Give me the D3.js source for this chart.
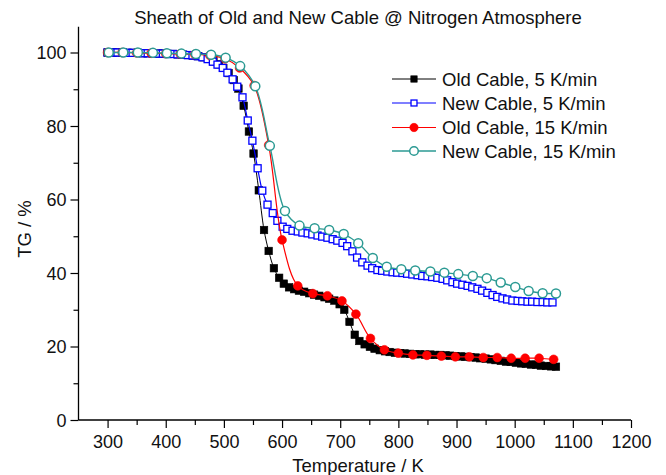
<!DOCTYPE html>
<html>
<head>
<meta charset="utf-8">
<script src="https://cdn.jsdelivr.net/npm/d3@7"></script>
<style>
  html, body { margin: 0; padding: 0; background: #fff; }
  svg { display: block; font-family: "Liberation Sans", Arial, sans-serif; }
</style>
</head>
<body>
<svg id="chart" width="666" height="475"></svg>
<script>
// Thermogravimetric curves of the cable sheath (TG in %, temperature in K)
const oldSlowT = [300,309,317,326,335,343,352,361,369,378,387,395,404,413,421,430,439,447,456,465,473,482,491,499,508,517,525,534,543,551,560,569,577,586,595,603,612,621,629,638,647,655,664,673,681,690,699,707,716,725,733,742,751,759,768,777,785,794,803,811,820,829,837,846,855,863,872,881,889,898,907,915,924,933,941,950,959,967,976,985,993,1002,1011,1019,1028,1037,1045,1054,1063,1071];
const oldSlowTG = [100,100,100,100,99.9,99.9,99.9,99.8,99.8,99.8,99.7,99.7,99.6,99.6,99.5,99.4,99.3,99.2,99.0,98.7,98.3,97.6,96.8,95.8,94.4,92.5,90.2,85.5,78.5,72.5,62.5,51.7,46.0,41.3,38.7,37.1,36.1,35.6,35.2,34.9,34.5,34.1,33.8,33.4,33.0,32.5,31.5,30.0,26.7,23.2,21.5,20.6,19.9,19.4,19.0,18.7,18.5,18.3,18.2,18.1,18.0,17.9,17.9,17.8,17.8,17.7,17.7,17.6,17.5,17.4,17.3,17.2,17.1,17.0,16.8,16.7,16.5,16.3,16.1,15.9,15.8,15.6,15.4,15.3,15.1,15.0,14.8,14.7,14.6,14.5];

const newSlowT = [300,309,317,326,334,343,352,360,369,377,386,395,403,412,420,429,438,446,455,463,472,481,489,498,506,515,523,532,541,549,558,566,575,584,592,601,609,618,627,635,644,652,661,669,678,687,695,704,712,721,729,738,747,755,764,772,781,790,798,807,815,824,833,841,850,858,867,876,884,893,901,910,919,927,936,944,953,962,970,979,987,996,1005,1013,1022,1030,1039,1048,1056,1065];
const newSlowTG = [100,100,100,100,99.9,99.9,99.9,99.8,99.8,99.8,99.7,99.7,99.6,99.6,99.5,99.4,99.3,99.2,99.0,98.7,98.2,97.5,96.7,95.8,94.5,92.7,90.7,87.8,81.5,76.0,68.5,62.4,58.6,56.3,54.2,52.6,52.0,51.5,51.3,51.0,50.8,50.5,50.2,49.9,49.6,49.2,48.8,48.2,47.3,45.9,44.2,42.9,42.0,41.3,40.8,40.6,40.4,40.2,40.1,40.0,39.8,39.6,39.4,39.2,39.1,38.9,38.7,38.4,38.0,37.5,37.1,36.8,36.5,36.1,35.7,35.2,34.6,34.0,33.5,33.1,32.8,32.5,32.4,32.3,32.2,32.2,32.1,32.1,32.0,32.0];

const oldFastT = [300,325,350,375,400,425,450,476,502,527,552,577,600,627,653,678,703,727,752,776,800,825,849,874,898,922,946,970,994,1018,1042,1067];
const oldFastTG = [100,100,99.9,99.8,99.7,99.6,99.5,99.2,98.3,95.8,91.0,74.8,49.0,36.5,34.4,33.8,32.4,28.8,22.2,19.1,18.2,17.7,17.6,17.4,17.2,17.2,17.0,17.0,16.8,16.8,16.8,16.5];

const newFastT = [302,327,352,378,402,427,452,478,503,528,554,579,605,630,656,681,706,731,756,780,805,829,855,879,903,928,952,976,1001,1024,1048,1071];
const newFastTG = [100,100,100,99.9,99.8,99.7,99.6,99.4,98.6,96.3,90.8,74.6,56.9,52.9,52.2,51.7,50.6,48.1,44.1,41.7,41.0,40.7,40.4,40.1,39.7,39.2,38.6,37.4,36.2,35.1,34.5,34.4];

const seriesNames = ["Old Cable, 5 K/min", "New Cable, 5 K/min", "Old Cable, 15 K/min", "New Cable, 15 K/min"];
const xTicks = [300,400,500,600,700,800,900,1000,1100,1200];
const yTicks = [0,20,40,60,80,100];

const series = [
  { name: seriesNames[0], t: oldSlowT, v: oldSlowTG, color: "#000000", shape: "square", fill: "#000000", size: 7.5, lw: 1 },
  { name: seriesNames[1], t: newSlowT, v: newSlowTG, color: "#0000ff", shape: "square", fill: "#ffffff", size: 7, lw: 1.2 },
  { name: seriesNames[2], t: oldFastT, v: oldFastTG, color: "#ff0000", shape: "circle", fill: "#ff0000", size: 4.4, lw: 1.2 },
  { name: seriesNames[3], t: newFastT, v: newFastTG, color: "#2b9a93", shape: "circle", fill: "#ffffff", size: 4.5, lw: 1.4 }
];

const svg = d3.select("#chart");
const x = d3.scaleLinear().domain([250, 1200]).range([78.5, 631]);
const y = d3.scaleLinear().domain([0, 100]).range([420, 52.5]);
const yTop = 107;

// Axes: left and bottom only, outward ticks with minor ticks between
const axisColor = "#000";
const xAxis = d3.axisBottom(x).tickValues(xTicks).tickFormat(d3.format("d"))
  .tickSize(8).tickSizeOuter(0).tickPadding(3);
const xMinor = d3.axisBottom(x).tickValues(d3.range(350, 1200, 100)).tickSize(5).tickFormat("").tickSizeOuter(0);
const yAxis = d3.axisLeft(y).tickValues(yTicks).tickFormat(d3.format("d"))
  .tickSize(8).tickSizeOuter(0).tickPadding(4);
const yMinor = d3.axisLeft(y).tickValues([10,30,50,70,90]).tickSize(5).tickFormat("").tickSizeOuter(0);

function styleAxis(g) {
  g.selectAll("path.domain").remove();
  g.selectAll("line").attr("stroke", axisColor).attr("stroke-width", 1.2);
  g.selectAll("text").attr("fill", "#111").style("font-size", "18px")
    .style("font-family", "'Liberation Sans', Arial, sans-serif");
}

const gx = svg.append("g").attr("transform", "translate(0,420)").call(xAxis).call(styleAxis);
svg.append("g").attr("transform", "translate(0,420)").call(xMinor).call(styleAxis);
const gy = svg.append("g").attr("transform", "translate(78.5,0)").call(yAxis).call(styleAxis);
svg.append("g").attr("transform", "translate(78.5,0)").call(yMinor).call(styleAxis);
gx.selectAll("text").attr("dy", "0.95em");
gy.selectAll("text").attr("dy", "0.36em");

svg.append("line").attr("x1", 78.5).attr("x2", 631).attr("y1", 420).attr("y2", 420)
  .attr("stroke", axisColor).attr("stroke-width", 1.3);
svg.append("line").attr("x1", 78.5).attr("x2", 78.5).attr("y1", 420).attr("y2", y(yTop))
  .attr("stroke", axisColor).attr("stroke-width", 1.3);

// Titles
svg.append("text").attr("x", 358).attr("y", 24).attr("text-anchor", "middle")
  .style("font-size", "18.5px").attr("fill", "#111")
  .text("Sheath of Old and New Cable @ Nitrogen Atmosphere");
svg.append("text").attr("x", 358).attr("y", 472).attr("text-anchor", "middle")
  .style("font-size", "18.5px").attr("fill", "#111").text("Temperature / K");
svg.append("text").attr("transform", "translate(31,229) rotate(-90)").attr("text-anchor", "middle")
  .style("font-size", "18.5px").attr("fill", "#111").text("TG / %");

// Curves and markers
const line = d3.line().curve(d3.curveCatmullRom.alpha(0.5));

function drawMarker(g, s, cx, cy, sizeScale) {
  const k = sizeScale || 1;
  if (s.shape === "square") {
    const a = s.size * k;
    g.append("rect").attr("x", cx - a / 2).attr("y", cy - a / 2).attr("width", a).attr("height", a)
      .attr("fill", s.fill).attr("stroke", s.color).attr("stroke-width", s.fill === "#ffffff" ? 1.3 : 0.6);
  } else {
    g.append("circle").attr("cx", cx).attr("cy", cy).attr("r", s.size * k)
      .attr("fill", s.fill).attr("stroke", s.color).attr("stroke-width", s.fill === "#ffffff" ? 1.5 : 0.6);
  }
}

series.forEach(s => {
  const pts = s.t.map((t, i) => [x(t), y(s.v[i])]);
  const g = svg.append("g");
  g.append("path").attr("d", line(pts)).attr("fill", "none")
    .attr("stroke", s.color).attr("stroke-width", s.lw);
  pts.forEach(p => drawMarker(g, s, p[0], p[1]));
});

// Legend
const legendY = [79, 103, 127.5, 151];
series.forEach((s, i) => {
  const g = svg.append("g");
  const ly = legendY[i];
  g.append("line").attr("x1", 392).attr("x2", 436).attr("y1", ly).attr("y2", ly)
    .attr("stroke", s.color).attr("stroke-width", s.lw);
  drawMarker(g, s, 414, ly, s.shape === "square" ? 0.85 : 0.95);
  g.append("text").attr("x", 442).attr("y", ly + 6.5).style("font-size", "18.5px")
    .attr("fill", "#111").text(s.name);
});
</script>
</body>
</html>
